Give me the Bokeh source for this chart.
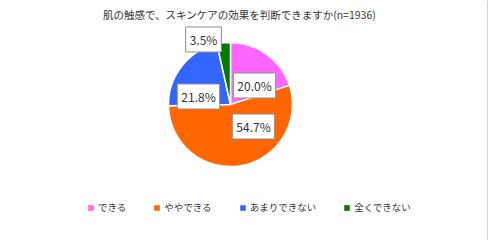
import math
from bokeh.plotting import figure
from bokeh.models import Range1d, Label, Legend, LegendItem, Span, ColumnDataSource
from bokeh.embed import file_html
from bokeh.resources import INLINE

# ---- data ----
title_text = "肌の触感で、スキンケアの効果を判断できますか(n=1936)"
categories = ["できる", "ややできる", "あまりできない", "全くできない"]
shares = [20.0, 54.7, 21.8, 3.5]
colors = ["#FF66FF", "#FF6600", "#3366FF", "#007A00"]

# ---- layout (screen px, from top-left) ----
W, H = 489, 240
cx, cy_top, radius = 230, 104, 62
label_offsets = [(24, -19), (23, 22), (-32, -8), (-27, -65)]  # label centre relative to pie centre
FONT = "Noto Sans CJK JP"
TXT = "#333333"

p = figure(width=W, height=H, x_range=Range1d(0, W), y_range=Range1d(0, H),
           output_backend="svg", toolbar_location=None, min_border=0)
p.axis.visible = False
p.grid.visible = False
p.outline_line_color = None
p.background_fill_color = "white"
p.border_fill_color = "white"

cy = H - cy_top
total = sum(shares)
starts, ends = [], []
cum = 0.0
for s in shares:
    a0 = math.pi / 2 - 2 * math.pi * (cum + s) / total
    a1 = math.pi / 2 - 2 * math.pi * cum / total
    starts.append(a0)
    ends.append(a1)
    cum += s

src = ColumnDataSource(dict(start=starts, end=ends, color=colors, cat=categories))
p.wedge(x=cx, y=cy, radius=radius, start_angle="start", end_angle="end",
        fill_color="color", line_color="white", line_width=1.5, source=src)

# data labels
for s, (dx, dy) in zip(shares, label_offsets):
    p.add_layout(Label(x=cx + dx, y=cy - dy, text=f"{s:.1f}%",
                       text_align="center", text_baseline="middle",
                       text_font=FONT, text_font_size="12px", text_color=TXT,
                       background_fill_color="white", border_line_color="#8C8C8C",
                       border_line_width=1, padding=4))

# title
p.add_layout(Label(x=239, y=H - 14, text=title_text, text_align="center",
                   text_baseline="middle", text_font=FONT, text_font_size="10.5px",
                   text_color=TXT))

# legend with plain square swatches (invisible proxy glyphs)
nan = float("nan")
items = []
for c, cat in zip(colors, categories):
    r = p.quad(left=[nan], right=[nan], top=[nan], bottom=[nan], fill_color=c, line_color=None)
    items.append(LegendItem(label=cat, renderers=[r]))
legend = Legend(items=items, orientation="horizontal", location=(87, 26),
                glyph_width=7, glyph_height=7, label_standoff=4, spacing=27,
                padding=0, margin=0, label_height=12,
                label_text_font=FONT, label_text_font_size="9.5px",
                label_text_color=TXT, border_line_color=None,
                background_fill_alpha=0)
p.add_layout(legend, "center")

# right chart border
p.add_layout(Span(location=487, dimension="height", line_color="#D0D0D0", line_width=1))

open("out.html", "w").write(file_html(p, INLINE))
